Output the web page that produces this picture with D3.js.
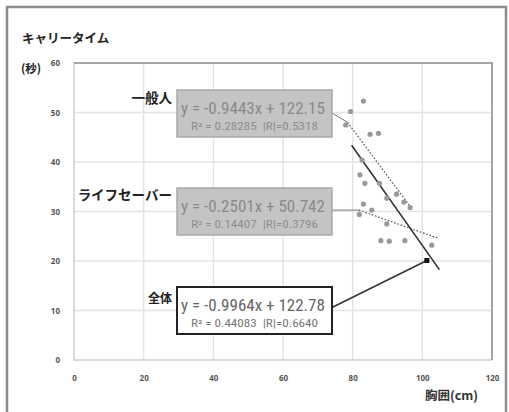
<!DOCTYPE html>
<html><head><meta charset="utf-8">
<script src="https://cdn.jsdelivr.net/npm/d3@7/dist/d3.min.js"></script>
<style>body{margin:0;background:#fff}</style></head>
<body><svg id="c" width="509" height="412"></svg>
<script>
// Chest circumference (cm) vs. carry time (s)
const chest = [83.1, 79.4, 78.0, 85.0, 87.4, 82.7, 82.1, 83.5, 87.7, 92.6, 89.8,
               94.7, 96.5, 83.1, 85.5, 81.9, 89.8, 88.1, 90.5, 95.0, 102.7];
const carryTime = [52.3, 50.2, 47.5, 45.6, 45.8, 40.4, 37.4, 35.7, 35.7, 33.5, 32.7,
                   31.9, 30.8, 31.5, 30.3, 29.4, 27.5, 24.1, 24.0, 24.1, 23.2];
const xTicks = [0, 20, 40, 60, 80, 100, 120];
const yTicks = [0, 10, 20, 30, 40, 50, 60];

// Regression lines
const trendNames = ["一般人", "ライフセーバー", "全体"];
const slopes = [-0.9443, -0.2501, -0.9964];
const intercepts = [122.15, 50.742, 122.78];
const rSquared = ["0.28285", "0.14407", "0.44083"];
const rAbs = ["0.5318", "0.3796", "0.6640"];
const xFrom = [78.5, 81.8, 79.7];
const xTo = [97.0, 104.7, 104.9];
const pointer = [101.3, 20.1]; // marker the 全体 callout points at

const svg = d3.select("#c");
const x = d3.scaleLinear().domain([0, 120]).range([74, 492]);
const y = d3.scaleLinear().domain([0, 60]).range([360, 63]);
const numFont = "'Liberation Sans Narrow','Roboto Condensed','Liberation Sans',sans-serif";
const jpFont = "'Noto Sans CJK JP',sans-serif";

// outer frame
svg.append("path").attr("d", "M7,420 V7 H506 V420")
  .attr("fill", "none").attr("stroke", "#8d8d8d").attr("stroke-width", 2.5);

// grid
const g = svg.append("g");
g.selectAll(".gx").data(xTicks.slice(1, -1)).join("line")
  .attr("x1", d => x(d)).attr("x2", d => x(d)).attr("y1", y(60)).attr("y2", y(0))
  .attr("stroke", "#e4e4e4").attr("stroke-width", 1.5);
g.selectAll(".gy").data(yTicks.slice(1, -1)).join("line")
  .attr("y1", d => y(d)).attr("y2", d => y(d)).attr("x1", x(0)).attr("x2", x(120))
  .attr("stroke", "#e4e4e4").attr("stroke-width", 1.5);
// plot border
svg.append("rect").attr("x", x(0)).attr("y", y(60)).attr("width", x(120) - x(0)).attr("height", y(0) - y(60))
  .attr("fill", "none").attr("stroke", "#cfcfcf").attr("stroke-width", 1.5);
svg.append("path").attr("d", `M${x(0)},${y(60)} H${x(120)} V${y(0)}`)
  .attr("fill", "none").attr("stroke", "#a5a5a5").attr("stroke-width", 2);

// axes
const ax = svg.append("g").attr("transform", `translate(0,${y(0)})`)
  .call(d3.axisBottom(x).tickValues(xTicks).tickSize(0).tickPadding(15));
const ay = svg.append("g").attr("transform", `translate(${x(0)},0)`)
  .call(d3.axisLeft(y).tickValues(yTicks).tickSize(0).tickPadding(14));
[ax, ay].forEach(a => {
  a.select(".domain").remove();
  a.selectAll("text").attr("font-family", "'Open Sans',sans-serif").attr("font-size", 8)
    .attr("font-weight", "bold").attr("fill", "#555");
});

// titles
svg.append("text").attr("x", 22).attr("y", 43).text("キャリータイム")
  .attr("font-family", jpFont).attr("font-weight", "bold").attr("font-size", 12.5).attr("fill", "#222");
svg.append("text").attr("x", 21).attr("y", 73).text("(秒)")
  .attr("font-family", jpFont).attr("font-weight", "bold").attr("font-size", 11.5).attr("fill", "#222");
svg.append("text").attr("x", 425).attr("y", 400).text("胸囲(cm)")
  .attr("font-family", jpFont).attr("font-weight", "bold").attr("font-size", 12.5).attr("fill", "#333");

// trend lines
const line = i => [[xFrom[i], slopes[i] * xFrom[i] + intercepts[i]], [xTo[i], slopes[i] * xTo[i] + intercepts[i]]];
[0, 1].forEach(i => {
  svg.append("path").attr("d", d3.line().x(d => x(d[0])).y(d => y(d[1]))(line(i)))
    .attr("stroke", "#555").attr("stroke-width", 1.2).attr("stroke-dasharray", "1.6,1.8").attr("fill", "none");
});
svg.append("path").attr("d", d3.line().x(d => x(d[0])).y(d => y(d[1]))(line(2)))
  .attr("stroke", "#333").attr("stroke-width", 1.6).attr("fill", "none");

// points
svg.selectAll(".pt").data(chest).join("circle")
  .attr("cx", d => x(d)).attr("cy", (d, i) => y(carryTime[i])).attr("r", 2.6).attr("fill", "#999");

// callout boxes
const boxTop = [90, 188, 287];
const boxL = 177, boxR = 332, boxH = 47;
const fmt = (s, b) => `y = ${s.toFixed(4)}x + ${b}`;
function fitText(t, w, force) {
  const n = t.node();
  if (force || n.getComputedTextLength() > w) t.attr("textLength", w).attr("lengthAdjust", "spacingAndGlyphs");
}
trendNames.forEach((name, i) => {
  const top = boxTop[i], mid = top + boxH / 2;
  const dark = i === 2;
  // leader
  let tx, ty;
  if (i === 2) { tx = pointer[0]; ty = pointer[1]; }
  else { tx = xFrom[i]; ty = slopes[i] * tx + intercepts[i]; }
  svg.append("line").attr("x1", boxR).attr("y1", i === 1 ? y(ty) : (i === 0 ? top + 23 : mid - 3))
    .attr("x2", x(tx)).attr("y2", y(ty))
    .attr("stroke", dark ? "#333" : "#777").attr("stroke-width", dark ? 1.5 : 1);
  svg.append("rect").attr("x", boxL).attr("y", top).attr("width", boxR - boxL).attr("height", boxH)
    .attr("fill", dark ? "#fff" : "#c4c4c4").attr("stroke", dark ? "#222" : "#a9a9a9")
    .attr("stroke-width", dark ? 2 : 1.5);
  const t1 = svg.append("text").attr("x", boxL + 4).attr("y", top + 24).text(fmt(slopes[i], intercepts[i].toString()))
    .attr("font-family", numFont).attr("font-size", 17).attr("fill", dark ? "#666" : "#8a8a8a");
  fitText(t1, 147, false);
  const t2 = svg.append("text").attr("x", boxL + 14).attr("y", top + 40)
    .text(`R² = ${rSquared[i]}\u00a0\u00a0|R|=${rAbs[i]}`)
    .attr("font-family", numFont).attr("font-size", 10.5).attr("fill", dark ? "#777" : "#8e8e8e");
  fitText(t2, 127, true);
  svg.append("text").attr("x", 172).attr("y", top + (i === 0 ? 13 : i === 1 ? 12 : 16)).attr("text-anchor", "end").text(name)
    .attr("font-family", jpFont).attr("font-weight", "bold").attr("font-size", i === 2 ? 12 : 13.5).attr("fill", "#222");
});
// pointer marker
svg.append("rect").attr("x", x(pointer[0]) - 2.5).attr("y", y(pointer[1]) - 2.5).attr("width", 5).attr("height", 5)
  .attr("fill", "#111");
</script></body></html>
